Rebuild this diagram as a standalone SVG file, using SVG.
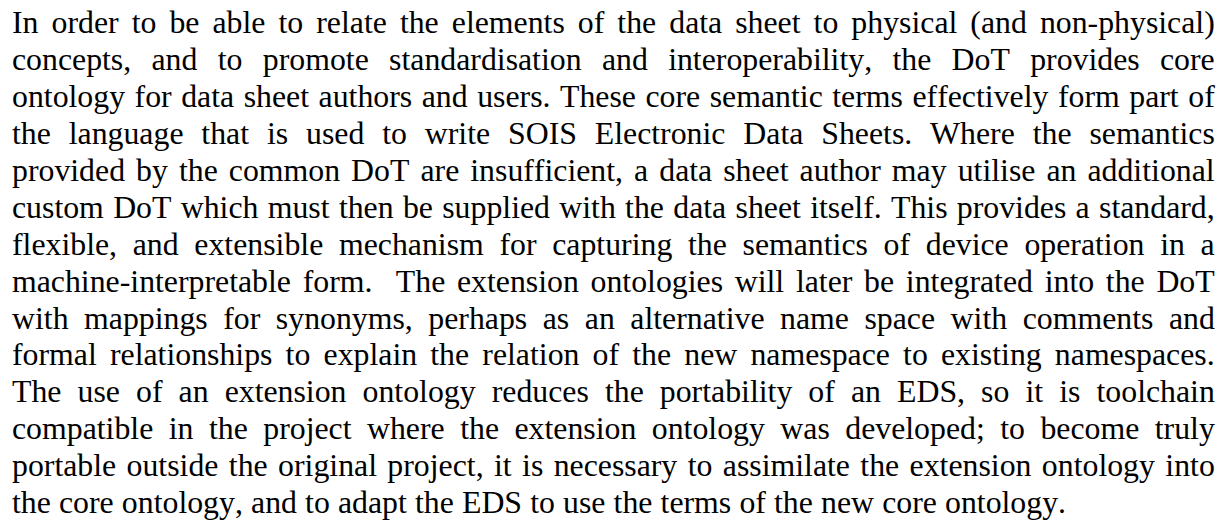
<svg xmlns="http://www.w3.org/2000/svg" width="1217" height="523" viewBox="0 0 1217 523">
<style>
text{font-family:"Liberation Serif","Times New Roman",serif;font-size:31.8px;fill:#000;white-space:pre;font-kerning:none;font-variant-ligatures:none;}
</style>
<rect x="0" y="0" width="1217" height="523" fill="#fff"/>
<g id="paragraph">
<text x="12" y="33.3" style="word-spacing:5.09px">In order to be able to relate the elements of the data sheet to physical (and non-physical)</text>
<text x="12" y="70.2" style="word-spacing:12.37px">concepts, and to promote standardisation and interoperability, the DoT provides core</text>
<text x="12" y="107.1" style="word-spacing:1.59px">ontology for data sheet authors and users. These core semantic terms effectively form part of</text>
<text x="12" y="144" style="word-spacing:9.93px">the language that is used to write SOIS Electronic Data Sheets. Where the semantics</text>
<text x="12" y="180.9" style="word-spacing:3.09px">provided by the common DoT are insufficient, a data sheet author may utilise an additional</text>
<text x="12" y="217.8" style="word-spacing:1.35px">custom DoT which must then be supplied with the data sheet itself. This provides a standard,</text>
<text x="12" y="254.7" style="word-spacing:7.74px">flexible, and extensible mechanism for capturing the semantics of device operation in a</text>
<text x="12" y="291.6" style="word-spacing:3.76px">machine-interpretable form.  The extension ontologies will later be integrated into the DoT</text>
<text x="12" y="328.5" style="word-spacing:7.59px">with mappings for synonyms, perhaps as an alternative name space with comments and</text>
<text x="12" y="365.4" style="word-spacing:5.23px">formal relationships to explain the relation of the new namespace to existing namespaces.</text>
<text x="12" y="402.3" style="word-spacing:8.13px">The use of an extension ontology reduces the portability of an EDS, so it is toolchain</text>
<text x="12" y="439.2" style="word-spacing:7.52px">compatible in the project where the extension ontology was developed; to become truly</text>
<text x="12" y="476.1" style="word-spacing:2.45px">portable outside the original project, it is necessary to assimilate the extension ontology into</text>
<text x="12" y="513" style="word-spacing:0.2px">the core ontology, and to adapt the EDS to use the terms of the new core ontology.</text>
</g>
</svg>
